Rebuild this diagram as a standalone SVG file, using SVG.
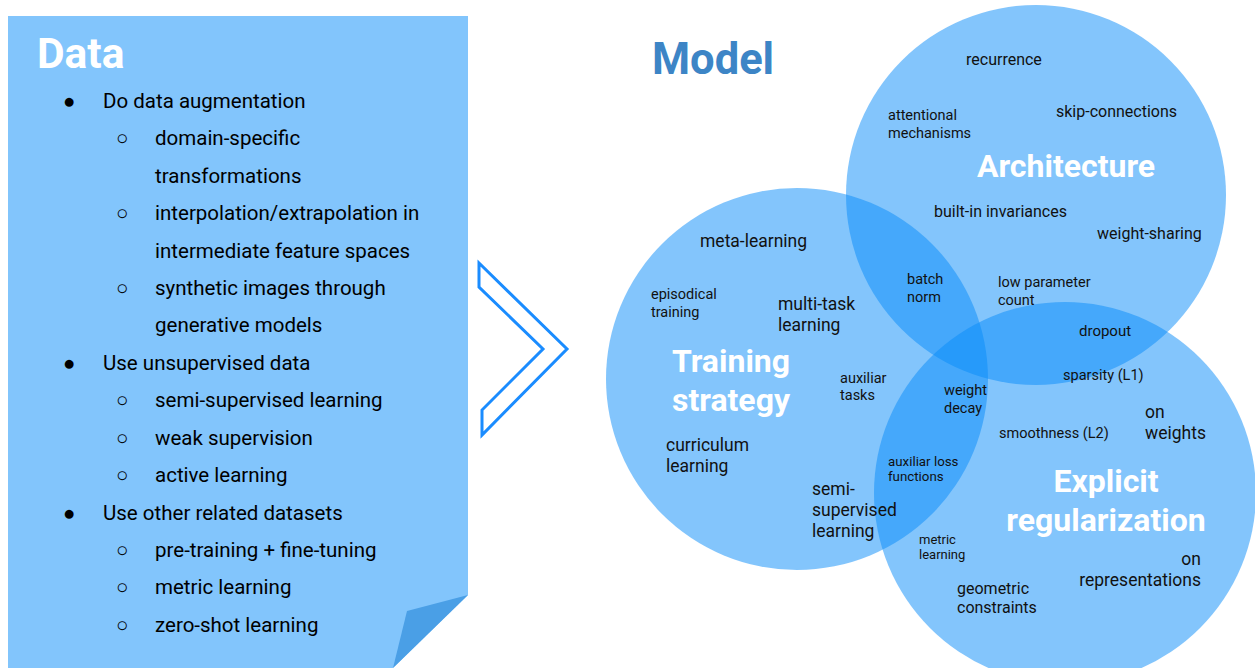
<svg xmlns="http://www.w3.org/2000/svg" width="1255" height="668" viewBox="0 0 1255 668">
<style>
.t{font-family:Roboto,"Liberation Sans",sans-serif;fill:#000}
.b{font-size:20.5px}
.s{font-size:14.5px;fill:#111}
.m{font-size:16px;fill:#111}
.l{font-size:17.5px;fill:#111}
.h{font-family:Roboto,"Liberation Sans",sans-serif;font-weight:bold;fill:#fff;font-size:32px}
.c{fill:rgb(8,140,249);fill-opacity:0.5}
</style>
<rect width="1255" height="668" fill="#fff"/>
<g id="data">
<path d="M8,16 H468 V595 L393,668 H8 Z" fill="#82C5FC"/>
<path d="M468,595 L407,611 L393,668 Z" fill="#4A9FE6"/>
<text class="h" x="37" y="68" style="font-size:42.5px">Data</text>
<g class="t b">
<text x="63" y="108">●</text><text x="103" y="108">Do data augmentation</text>
<text x="116" y="145">○</text><text x="155" y="145">domain-specific</text>
<text x="155" y="183">transformations</text>
<text x="116" y="220">○</text><text x="155" y="220">interpolation/extrapolation in</text>
<text x="155" y="258">intermediate feature spaces</text>
<text x="116" y="295">○</text><text x="155" y="295">synthetic images through</text>
<text x="155" y="332">generative models</text>
<text x="63" y="370">●</text><text x="103" y="370">Use unsupervised data</text>
<text x="116" y="407">○</text><text x="155" y="407">semi-supervised learning</text>
<text x="116" y="445">○</text><text x="155" y="445">weak supervision</text>
<text x="116" y="482">○</text><text x="155" y="482">active learning</text>
<text x="63" y="520">●</text><text x="103" y="520">Use other related datasets</text>
<text x="116" y="557">○</text><text x="155" y="557">pre-training + fine-tuning</text>
<text x="116" y="594">○</text><text x="155" y="594">metric learning</text>
<text x="116" y="632">○</text><text x="155" y="632">zero-shot learning</text>
</g>
</g>
<g id="arrow">
<path d="M479,263 L567,349 L482,435 L482,410 L543,349 L479,287 Z" fill="none" stroke="#1A8CFF" stroke-width="3" stroke-linejoin="miter"/>
</g>
<g id="model">
<text x="652" y="74" style="font-family:Roboto,'Liberation Sans',sans-serif;font-weight:bold;font-size:43.5px;fill:#3D85C6">Model</text>
<circle class="c" cx="1036" cy="195" r="190"/>
<circle class="c" cx="797" cy="379" r="191"/>
<circle class="c" cx="1065" cy="493" r="191"/>
</g>
<g id="architecture">
<text class="h" x="1066" y="177" text-anchor="middle">Architecture</text>
<text class="t m" x="966" y="65">recurrence</text>
<text class="t s" x="888" y="120">attentional</text>
<text class="t s" x="888" y="138">mechanisms</text>
<text class="t m" x="1056" y="117">skip-connections</text>
<text class="t m" x="934" y="217">built-in invariances</text>
<text class="t m" x="1097" y="239">weight-sharing</text>
<text class="t s" x="907" y="284">batch</text>
<text class="t s" x="907" y="302">norm</text>
<text class="t s" x="998" y="287">low parameter</text>
<text class="t s" x="998" y="305">count</text>
<text class="t s" x="1079" y="336" style="font-size:15px">dropout</text>
</g>
<g id="training">
<text class="h" x="731" y="372" text-anchor="middle">Training</text>
<text class="h" x="731" y="411" text-anchor="middle">strategy</text>
<text class="t l" x="700" y="247">meta-learning</text>
<text class="t s" x="651" y="299">episodical</text>
<text class="t s" x="651" y="317">training</text>
<text class="t l" x="778" y="310">multi-task</text>
<text class="t l" x="778" y="331">learning</text>
<text class="t s" x="840" y="383">auxiliar</text>
<text class="t s" x="840" y="400">tasks</text>
<text class="t l" x="666" y="451">curriculum</text>
<text class="t l" x="666" y="472">learning</text>
<text class="t l" x="812" y="495">semi-</text>
<text class="t l" x="812" y="516">supervised</text>
<text class="t l" x="812" y="537">learning</text>
<text class="t s" x="944" y="395">weight</text>
<text class="t s" x="944" y="413">decay</text>
<text class="t s" x="888" y="466" style="font-size:13.3px">auxiliar loss</text>
<text class="t s" x="888" y="481" style="font-size:13.3px">functions</text>
</g>
<g id="explicit">
<text class="h" x="1106" y="492" text-anchor="middle">Explicit</text>
<text class="h" x="1106" y="531" text-anchor="middle">regularization</text>
<text class="t s" x="1063" y="380">sparsity (L1)</text>
<text class="t s" x="999" y="438">smoothness (L2)</text>
<text class="t l" x="1145" y="418">on</text>
<text class="t l" x="1145" y="439">weights</text>
<text class="t s" x="919" y="544" style="font-size:13px">metric</text>
<text class="t s" x="919" y="559" style="font-size:13px">learning</text>
<text class="t m" x="957" y="594">geometric</text>
<text class="t m" x="957" y="613">constraints</text>
<text class="t l" x="1201" y="565" text-anchor="end">on</text>
<text class="t l" x="1201" y="586" text-anchor="end">representations</text>
</g>
</svg>
